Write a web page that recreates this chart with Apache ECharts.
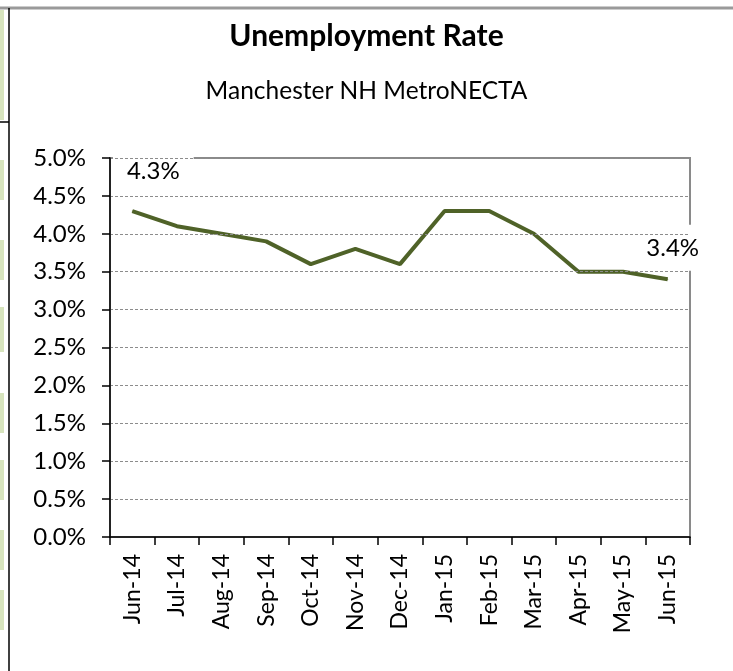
<!DOCTYPE html>
<html><head><meta charset="utf-8">
<script src="https://cdn.jsdelivr.net/npm/echarts@6/dist/echarts.min.js"></script>
<style>html,body{margin:0;padding:0;background:#fff}#c{width:733px;height:671px}</style>
</head><body><div id="c"></div>
<script>
var months = ['Jun-14','Jul-14','Aug-14','Sep-14','Oct-14','Nov-14','Dec-14','Jan-15','Feb-15','Mar-15','Apr-15','May-15','Jun-15'];
var rates = [4.3, 4.1, 4.0, 3.9, 3.6, 3.8, 3.6, 4.3, 4.3, 4.0, 3.5, 3.5, 3.4];
var yTicks = [0, 0.5, 1.0, 1.5, 2.0, 2.5, 3.0, 3.5, 4.0, 4.5, 5.0];
var titleText = 'Unemployment Rate';
var subtitleText = 'Manchester NH MetroNECTA';

var FONT = 'Lato';
var chart = echarts.init(document.getElementById('c'), null, {renderer: 'canvas'});

var seriesData = rates.map(function (v, i) {
  var item = {value: v};
  if (i === 0) {
    item.label = {show: true, position: 'top', distance: 17, offset: [21, 0], padding: [10, 14]};
  } else if (i === rates.length - 1) {
    item.label = {show: true, position: 'top', distance: 8, offset: [5, 0], padding: [11, 10]};
  }
  return item;
});

chart.setOption({
  animation: false,
  backgroundColor: '#fff',
  title: [
    {text: titleText, left: 'center', top: 16, textStyle: {fontFamily: FONT, fontWeight: 'bold', fontSize: 30, color: '#000'}},
    {text: subtitleText, left: 'center', top: 74, textStyle: {fontFamily: FONT, fontWeight: 'normal', fontSize: 24.5, color: '#000'}}
  ],
  graphic: [
    {type: 'line', shape: {x1: 0, y1: 8, x2: 733, y2: 8}, style: {stroke: '#9a9a9a', lineWidth: 3}, silent: true},
    {type: 'line', shape: {x1: 9, y1: 8, x2: 9, y2: 671}, style: {stroke: '#000', lineWidth: 1.5}, silent: true},
    {type: 'line', shape: {x1: 0, y1: 122, x2: 9, y2: 122}, style: {stroke: '#000', lineWidth: 1.5}, silent: true},
    {type: 'rect', shape: {x: 0, y: 10, width: 4, height: 110}, style: {fill: '#d7e4bd'}, silent: true},
    {type: 'rect', shape: {x: 0, y: 160, width: 4, height: 40}, style: {fill: '#d7e4bd'}, silent: true},
    {type: 'rect', shape: {x: 0, y: 240, width: 4, height: 40}, style: {fill: '#d7e4bd'}, silent: true},
    {type: 'rect', shape: {x: 0, y: 307, width: 4, height: 45}, style: {fill: '#d7e4bd'}, silent: true},
    {type: 'rect', shape: {x: 0, y: 393, width: 4, height: 40}, style: {fill: '#d7e4bd'}, silent: true},
    {type: 'rect', shape: {x: 0, y: 460, width: 4, height: 40}, style: {fill: '#d7e4bd'}, silent: true},
    {type: 'rect', shape: {x: 0, y: 530, width: 4, height: 40}, style: {fill: '#d7e4bd'}, silent: true},
    {type: 'rect', shape: {x: 0, y: 590, width: 4, height: 40}, style: {fill: '#d7e4bd'}, silent: true}
  ],
  grid: {left: 110, right: 43, top: 158, bottom: 134, show: true, borderColor: '#8a8a8a', borderWidth: 2, backgroundColor: 'transparent'},
  xAxis: {
    type: 'category',
    data: months,
    boundaryGap: true,
    z: 10,
    axisLine: {show: true, lineStyle: {color: '#000', width: 1.5}},
    axisTick: {show: true, alignWithLabel: false, length: 8, inside: false, lineStyle: {color: '#000', width: 1.5}},
    axisLabel: {rotate: 90, interval: 0, margin: 17, fontFamily: FONT, fontSize: 23, color: '#000'},
    splitLine: {show: false}
  },
  yAxis: {
    type: 'value',
    min: yTicks[0],
    max: yTicks[yTicks.length - 1],
    interval: 0.5,
    z: 10,
    axisLine: {show: true, lineStyle: {color: '#000', width: 1.5}},
    axisTick: {show: true, length: 8, lineStyle: {color: '#000', width: 1.5}},
    axisLabel: {margin: 24, fontFamily: FONT, fontSize: 24, color: '#000', formatter: function (v) { return v.toFixed(1) + '%'; }},
    splitLine: {show: true, lineStyle: {color: '#8c8c8c', width: 1, type: [3, 2]}}
  },
  series: [{
    type: 'line',
    data: seriesData,
    showSymbol: true,
    symbol: 'circle',
    symbolSize: 1,
    lineStyle: {color: '#4f6228', width: 4},
    itemStyle: {color: '#4f6228'},
    label: {show: false, fontFamily: FONT, fontSize: 24, color: '#000', backgroundColor: '#fff',
      formatter: function (p) { return p.value.toFixed(1) + '%'; }}
  }]
});
</script></body></html>
